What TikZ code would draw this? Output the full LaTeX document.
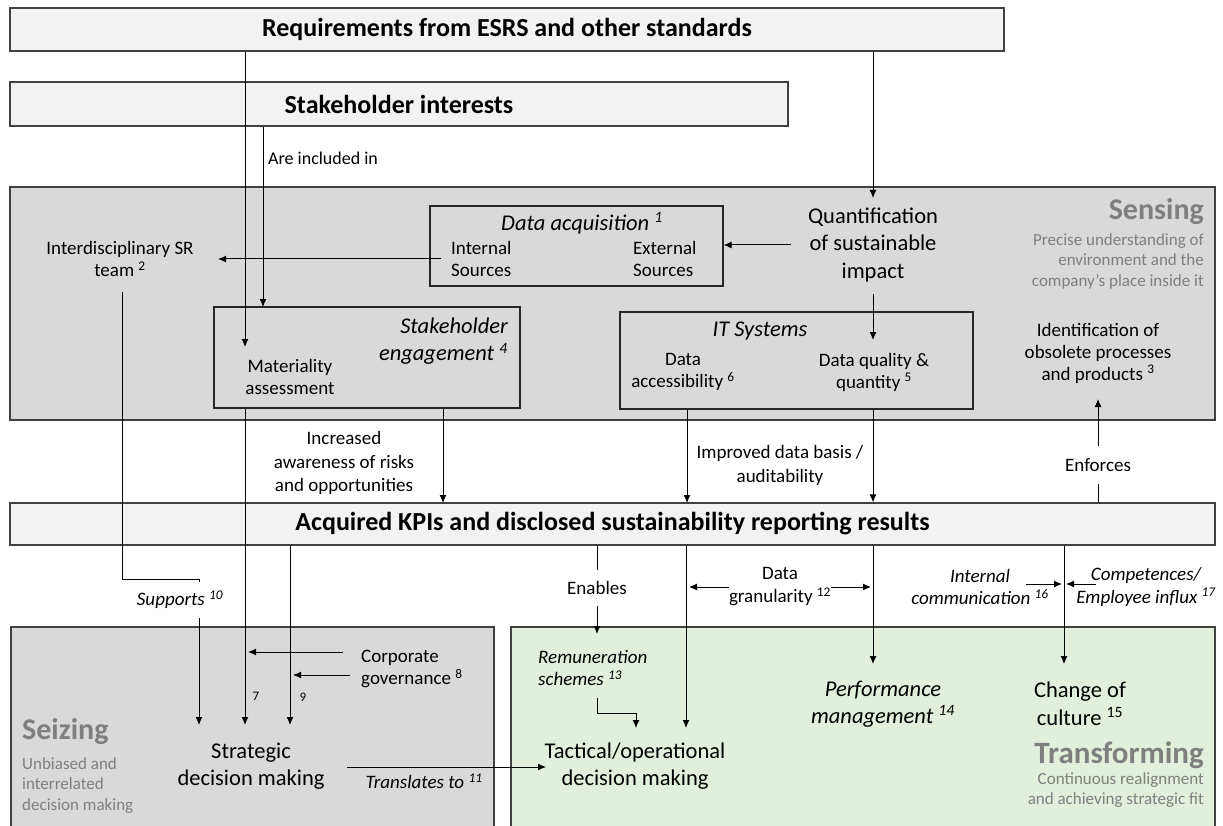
\documentclass[tikz,border=0pt]{standalone}
\usepackage{fontspec}
\setmainfont{Carlito}
\usepackage{tikz}
\usetikzlibrary{arrows.meta,positioning}

\definecolor{bandfill}{HTML}{F2F2F2}
\definecolor{areafill}{HTML}{D9D9D9}
\definecolor{greenfill}{HTML}{E2EFDA}
\definecolor{framegray}{HTML}{404040}
\definecolor{titlegray}{HTML}{7F7F7F}

\tikzset{
  band/.style={draw=framegray, fill=bandfill, line width=1.3pt, inner sep=0pt, font=\bfseries\fontsize{26}{30}\selectfont},
  area/.style={draw=framegray, line width=1.3pt, inner sep=0pt},
  subbox/.style={draw=black!85, line width=1.3pt, inner sep=0pt},
  lbl/.style={inner sep=0pt, align=center, font=\fontsize{19}{22}\selectfont},
  itlbl/.style={inner sep=0pt, align=center, font=\itshape\fontsize{19}{22.5}\selectfont},
  biglbl/.style={inner sep=0pt, align=center, font=\fontsize{22.5}{27.5}\selectfont},
  bigit/.style={inner sep=0pt, align=center, font=\itshape\fontsize{22.5}{27}\selectfont},
  areatitle/.style={inner sep=0pt, text=titlegray, font=\bfseries\fontsize{30}{34}\selectfont},
  areasub/.style={inner sep=0pt, text=titlegray, font=\fontsize{17}{20.5}\selectfont},
  gaplbl/.style={lbl, fill=white, inner xsep=1pt, inner ysep=11pt},
  arr/.style={-{Latex[length=8pt,width=7pt]}, line width=1pt},
  con/.style={line width=1pt},
}

\begin{document}
\begin{tikzpicture}[x=1pt, y=-1pt]
	\useasboundingbox (0,0) rectangle (1223,826);

	\node [band, minimum width=994pt, minimum height=43pt] (req) at (507,29.5) {Requirements from ESRS and other standards};
	\node [band, minimum width=778pt, minimum height=44pt] (stake) at (399,104) {Stakeholder interests};
	\node [area, fill=areafill, minimum width=1205pt, minimum height=233pt] (sensing) at (612.5,303.5) {};
	\node [band, minimum width=1205pt, minimum height=42pt] (kpi) at (612.5,524) {Acquired KPIs and disclosed sustainability reporting results};
	\node [area, fill=areafill, minimum width=483pt, minimum height=212pt] (seizing) at (252.5,733) {};
	\node [area, fill=greenfill, minimum width=704pt, minimum height=212pt] (transf) at (863,733) {};

	\node [subbox, minimum width=293pt, minimum height=80pt] (dacq) at (576.5,246) {};
	\node [subbox, minimum width=306pt, minimum height=101pt] (engage) at (367,357.5) {};
	\node [subbox, minimum width=353pt, minimum height=97pt] (itsys) at (796.5,360.5) {};

	\node [lbl, anchor=west, font=\fontsize{18}{21}\selectfont] (incl) at (268,158) {Are included in};
	\node [lbl] (team) at (120,259) {Interdisciplinary SR\\team \textsuperscript{2}};
	\node [bigit] (dacqtitle) at (582,223) {Data acquisition \textsuperscript{1}};
	\node [lbl, anchor=west, align=left] (intsrc) at (451,259) {Internal\\Sources};
	\node [lbl, anchor=west, align=left] (extsrc) at (633,259) {External\\Sources};
	\node [biglbl] (quant) at (873,245) {Quantification\\of sustainable\\impact};
	\node [areatitle, anchor=east] (senstitle) at (1204,212) {Sensing};
	\node [areasub, anchor=east, align=right] (senssub) at (1204,261) {Precise understanding of\\environment and the\\company\char39 s place inside it};
	\node [lbl] (ident) at (1098,353) {Identification of\\obsolete processes\\and products \textsuperscript{3}};
	\node [bigit] (ittitle) at (760,331) {IT Systems};
	\node [lbl] (access) at (683,372) {Data\\accessibility \textsuperscript{6}};
	\node [lbl] (quality) at (874,372) {Data quality \&\\quantity \textsuperscript{5}};
	\node [bigit, anchor=east, align=right] (engtitle) at (508,341.5) {Stakeholder\\engagement \textsuperscript{4}};
	\node [lbl] (mater) at (290,377) {Materiality\\assessment};

	\node [lbl, font=\fontsize{19}{23.5}\selectfont] (incr) at (344,463) {Increased\\awareness of risks\\and opportunities};
	\node [lbl, font=\fontsize{19}{24}\selectfont] (impr) at (780,465) {Improved data basis /\\auditability};

	\node [lbl, font=\fontsize{19}{23}\selectfont] (gran) at (780,587) {Data\\granularity \textsuperscript{12}};
	\node [itlbl] (icomm) at (980,587) {Internal\\communication \textsuperscript{16}};
	\node [itlbl] (compet) at (1146,587) {Competences/\\Employee influx \textsuperscript{17}};

	\node [itlbl, anchor=west, align=left] (remun) at (538,668) {Remuneration\\schemes \textsuperscript{13}};
	\node [biglbl] (tact) at (635,766) {Tactical/operational\\decision making};
	\node [bigit] (perf) at (883,704) {Performance\\management \textsuperscript{14}};
	\node [biglbl] (cult) at (1080,704) {Change of\\culture \textsuperscript{15}};
	\node [areatitle, anchor=east, font=\bfseries\fontsize{31}{35}\selectfont] (transtitle) at (1204,755) {Transforming};
	\node [areasub, anchor=east, align=right] (transsub) at (1204,790) {Continuous realignment\\and achieving strategic fit};

	\node [areatitle, anchor=west] (seiztitle) at (22,732) {Seizing};
	\node [areasub, anchor=west, align=left] (seizsub) at (22,785.5) {Unbiased and\\interrelated\\decision making};
	\node [biglbl] (strat) at (251,766) {Strategic\\decision making};
	\node [lbl, anchor=west, align=left] (corp) at (361,669) {Corporate\\governance \textsuperscript{8}};
	\node [lbl, font=\fontsize{13}{15}\selectfont] (seven) at (256,696) {7};
	\node [lbl, font=\fontsize{13}{15}\selectfont] (nine) at (303,697) {9};
	\node [itlbl] (transl) at (424,781) {Translates to \textsuperscript{11}};

	\coordinate (matin) at (245,347);
	\coordinate (engin) at (263,307);
	\coordinate (quantin) at (873,198);
	\coordinate (quantout) at (873,294);
	\coordinate (qualin) at (873,340);
	\coordinate (quantleft) at (791,245);
	\coordinate (srcleft) at (441,259);
	\coordinate (teamin) at (218,259);
	\coordinate (teamout) at (122,292);
	\coordinate (suppbend) at (122,579);
	\coordinate (suppturn) at (199,579);
	\coordinate (stratinA) at (199,725);
	\coordinate (stratinB) at (245,725);
	\coordinate (stratinC) at (290,725);
	\coordinate (corpA) at (343,652);
	\coordinate (corpB) at (350,675);
	\coordinate (incrin) at (443,503);
	\coordinate (accin) at (687,503);
	\coordinate (identin) at (1098,399);
	\coordinate (enabin) at (597,634);
	\coordinate (tactin) at (686,728);
	\coordinate (remout) at (597,698);
	\coordinate (remin) at (636,728);
	\coordinate (perfin) at (873,664);
	\coordinate (cultin) at (1064,664);
	\coordinate (icommarr) at (1026,584);
	\coordinate (competarr) at (1096,584);
	\coordinate (translout) at (347,767);
	\coordinate (translin) at (546,767);

	\draw [arr] (req.south -| matin) to (matin);
	\draw [arr] (stake.south -| engin) to (engin);
	\draw [arr] (req.south -| quantin) to (quantin);
	\draw [arr] (quantleft) to (quantleft -| dacq.east);
	\draw [arr] (quantout) to (qualin);
	\draw [arr] (srcleft) to (teamin);
	\draw [con] (teamout) -- (suppbend) -- (suppturn);
	\draw [arr] (suppturn) to (stratinA);
	\draw [arr] (engage.south -| stratinB) to (stratinB);
	\draw [arr] (kpi.south -| stratinC) to (stratinC);
	\draw [arr] (corpA) to ([xshift=3pt]corpA -| stratinB);
	\draw [arr] (corpB) to ([xshift=3pt]corpB -| stratinC);
	\draw [arr] (engage.south -| incrin) to (incrin);
	\draw [arr] (itsys.south -| accin) to (accin);
	\draw [arr] (itsys.south -| quantin) to (kpi.north -| quantin);
	\draw [arr] (kpi.north -| identin) to (identin);
	\draw [arr] (kpi.south -| enabin) to (enabin);
	\draw [arr] (kpi.south -| tactin) to (tactin);
	\draw [arr] (remout) -- ++(0,15) -| (remin);
	\draw [arr] (kpi.south -| perfin) to (perfin);
	\draw [arr] (kpi.south -| cultin) to (cultin);
	\draw [arr] (gran.west) to ([xshift=3pt]gran.west -| tactin);
	\draw [arr] (gran.east) to ([xshift=-2pt]gran.east -| perfin);
	\draw [arr] (icommarr) to ([xshift=-2pt]icommarr -| cultin);
	\draw [arr] (competarr) to ([xshift=2pt]competarr -| cultin);
	\draw [arr] (translout) to (translin);

	\node [gaplbl, inner ysep=12pt] (enf) at (1098,465) {Enforces};
	\node [gaplbl] (enab) at (597,588) {Enables};
	\node [itlbl, fill=white, inner xsep=1pt, inner ysep=9pt] (supp) at (180,600) {Supports \textsuperscript{10}};
\end{tikzpicture}
\end{document}
